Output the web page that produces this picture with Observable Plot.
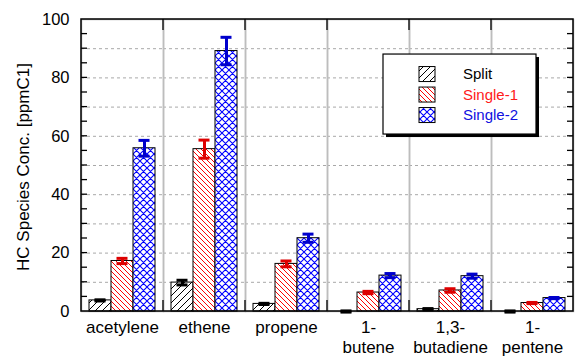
<!DOCTYPE html>
<html>
<head>
<meta charset="utf-8">
<script src="https://cdn.jsdelivr.net/npm/d3@7"></script>
<script src="https://cdn.jsdelivr.net/npm/@observablehq/plot@0.6"></script>
<style>
  html, body { margin: 0; padding: 0; background: white; }
  #chart { width: 577px; height: 358px; }
</style>
</head>
<body>
<div id="chart"></div>
<script>
const categories = ["acetylene", "ethene", "propene", "1-\nbutene", "1,3-\nbutadiene", "1-\npentene"];
const series = ["Split", "Single-1", "Single-2"];
const splitVals   = [3.8, 9.9, 2.6, 0.0, 0.8, 0.0];
const splitErr    = [0.2, 0.8, 0.2, 0.2, 0.2, 0.2];
const single1Vals = [17.3, 55.6, 16.3, 6.5, 7.2, 2.9];
const single1Err  = [0.9, 3.1, 1.0, 0.4, 0.6, 0.2];
const single2Vals = [55.9, 89.2, 25.1, 12.3, 12.1, 4.6];
const single2Err  = [2.7, 4.7, 1.4, 0.7, 0.7, 0.2];
const yTickLabels = [0, 20, 40, 60, 80, 100];
const gridVals = [10, 20, 30, 40, 50, 60, 70, 80, 90];
const minorTicks = [5, 10, 15, 20, 25, 30, 35, 40, 45, 50, 55, 60, 65, 70, 75, 80, 85, 90, 95];
const yTitle = "HC Species Conc. [ppmC1]";

const seriesVals = {"Split": splitVals, "Single-1": single1Vals, "Single-2": single2Vals};
const seriesErr = {"Split": splitErr, "Single-1": single1Err, "Single-2": single2Err};
const patternId = {"Split": "patSplit", "Single-1": "patS1", "Single-2": "patS2"};
const errColor = {"Split": "#000000", "Single-1": "#dd0000", "Single-2": "#0000cc"};
const textColor = {"Split": "#000000", "Single-1": "#ff1a1a", "Single-2": "#1010e0"};

const data = [];
categories.forEach((c, i) => {
  series.forEach(s => {
    data.push({cat: c, series: s, v: seriesVals[s][i], e: seriesErr[s][i]});
  });
});

const font = "'Liberation Sans', Arial, Helvetica, sans-serif";

const marks = [
  Plot.ruleY(gridVals, {stroke: "#a8a8a8", strokeDasharray: "3,3", strokeWidth: 1}),
  Plot.frame({stroke: "#bdbdbd", strokeWidth: 1.5}),
];
series.forEach(s => {
  marks.push(Plot.barY(data, {
    filter: d => d.series === s,
    fx: "cat", x: "series", y: "v",
    fill: `url(#${patternId[s]})`, stroke: "black", strokeWidth: 1
  }));
});
series.forEach(s => {
  marks.push(Plot.ruleX(data, {
    filter: d => d.series === s,
    fx: "cat", x: "series", y1: d => d.v - d.e, y2: d => d.v + d.e,
    stroke: errColor[s], strokeWidth: 3
  }));
  marks.push(Plot.tickY(data, {
    filter: d => d.series === s,
    fx: "cat", x: "series", y: d => d.v - d.e,
    stroke: errColor[s], strokeWidth: 3, insetLeft: 5.5, insetRight: 5.5
  }));
  marks.push(Plot.tickY(data, {
    filter: d => d.series === s,
    fx: "cat", x: "series", y: d => d.v + d.e,
    stroke: errColor[s], strokeWidth: 3, insetLeft: 5.5, insetRight: 5.5
  }));
});
marks.push(Plot.axisY({
  ticks: yTickLabels, tickSize: 0, tickPadding: 12, fontSize: 16.5, label: null
}));
marks.push(Plot.axisFx({
  anchor: "bottom", tickSize: 0, tickPadding: 8, fontSize: 17, lineHeight: 1.14, label: null
}));

const plot = Plot.plot({
  width: 577, height: 358,
  marginLeft: 81, marginRight: 4, marginTop: 19, marginBottom: 47,
  style: {fontFamily: font, fontSize: "17px", background: "white", color: "black", overflow: "visible"},
  fx: {domain: categories, padding: 0, label: null},
  x: {domain: series, paddingInner: 0, paddingOuter: 0.36, axis: null},
  y: {domain: [0, 100], label: null},
  marks
});

const svg = d3.select(plot.tagName.toLowerCase() === "svg" ? plot : plot.querySelector("svg"));

// pattern definitions
const defs = svg.insert("defs", ":first-child");
function pattern(id, size, color, paths, sw) {
  const p = defs.append("pattern").attr("id", id).attr("patternUnits", "userSpaceOnUse")
    .attr("width", size).attr("height", size);
  p.append("rect").attr("width", size).attr("height", size).attr("fill", "white");
  p.append("path").attr("d", paths).attr("stroke", color).attr("stroke-width", sw).attr("fill", "none");
}
pattern("patSplit", 7, "black", "M0,7L7,0M-1,1L1,-1M6,8L8,6", 1);
pattern("patS1", 5, "#ff0000", "M0,0L5,5M-1,4L1,6M4,-1L6,1", 1);
pattern("patS2", 7, "#0000ff", "M0,0L7,7M-1,6L1,8M6,-1L8,1M0,7L7,0M-1,1L1,-1M6,8L8,6", 1.1);

// outer frame and ticks from the library's scales
const fxs = plot.scale("fx");
const ys = plot.scale("y");
const frameL = fxs.apply(categories[0]);
const frameR = fxs.apply(categories[categories.length - 1]) + fxs.bandwidth;
const frameT = ys.apply(100), frameB = ys.apply(0);
const g = svg.append("g").attr("stroke", "black").attr("fill", "none");
g.append("rect").attr("x", frameL).attr("y", frameT).attr("width", frameR - frameL).attr("height", frameB - frameT)
  .attr("stroke-width", 1.5);
minorTicks.forEach(t => {
  const yy = ys.apply(t);
  g.append("line").attr("x1", frameL).attr("x2", frameL + 6).attr("y1", yy).attr("y2", yy).attr("stroke-width", 1.3);
  g.append("line").attr("x1", frameR - 6).attr("x2", frameR).attr("y1", yy).attr("y2", yy).attr("stroke-width", 1.3);
});
categories.slice(1).forEach(c => {
  const xx = fxs.apply(c);
  g.append("line").attr("x1", xx).attr("x2", xx).attr("y1", frameT).attr("y2", frameT + 11).attr("stroke-width", 1.3);
  g.append("line").attr("x1", xx).attr("x2", xx).attr("y1", frameB - 11).attr("y2", frameB).attr("stroke-width", 1.3);
});

// y axis title
svg.append("text")
  .attr("transform", `translate(${frameL - 58},${(frameT + frameB) / 2 + 2}) rotate(-90)`)
  .attr("text-anchor", "middle").attr("dy", "0.36em")
  .attr("font-family", font).attr("font-size", 17).attr("fill", "black")
  .text(yTitle);

// legend
const lg = svg.append("g").attr("font-family", font).attr("font-size", 15).attr("text-anchor", "start");
const lx = fxs.apply(categories[3]) + 56, ly = ys.apply(88);
lg.append("rect").attr("x", lx + 3).attr("y", ly + 3).attr("width", 153).attr("height", 80).attr("fill", "black");
lg.append("rect").attr("x", lx).attr("y", ly).attr("width", 153).attr("height", 80)
  .attr("fill", "white").attr("stroke", "black").attr("stroke-width", 1.2);
series.forEach((s, i) => {
  const ry = ly + 20 + i * 20.5;
  lg.append("rect").attr("x", lx + 36).attr("y", ry - 7.5).attr("width", 16).attr("height", 15)
    .attr("fill", `url(#${patternId[s]})`).attr("stroke", "black").attr("stroke-width", 1);
  lg.append("text").attr("x", lx + 80).attr("y", ry).attr("dy", "0.36em")
    .attr("text-anchor", "start").attr("fill", textColor[s]).text(s);
});

document.getElementById("chart").appendChild(plot);
</script>
</body>
</html>
